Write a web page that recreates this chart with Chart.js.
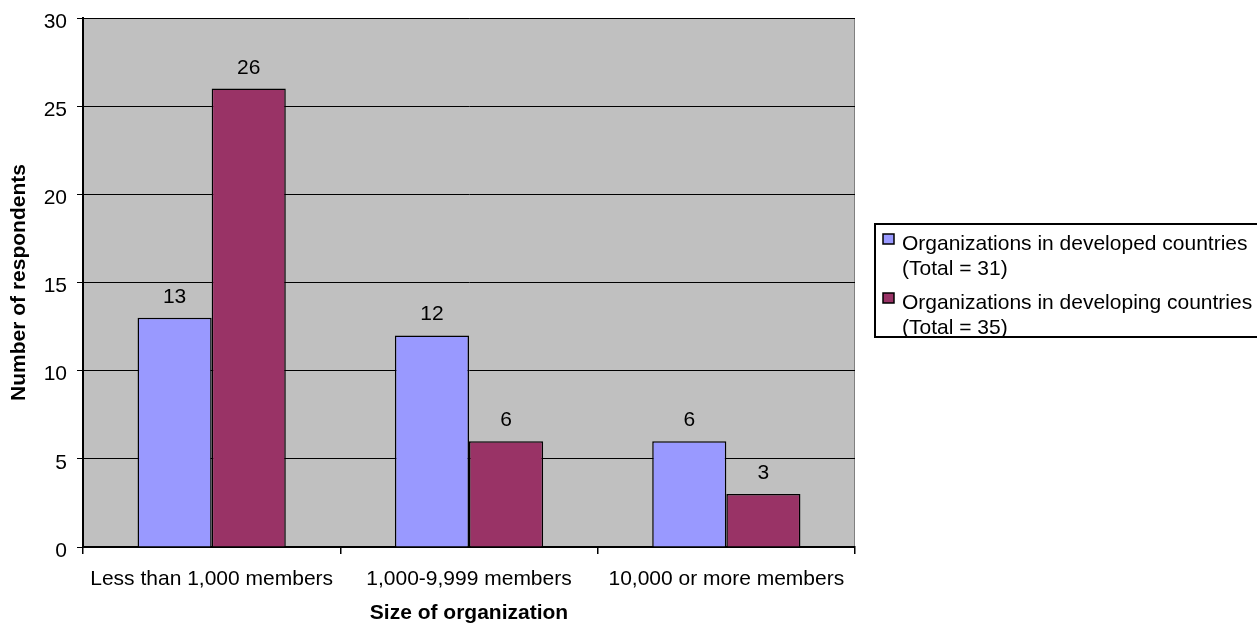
<!DOCTYPE html>
<html>
<head>
<meta charset="utf-8">
<script src="https://cdn.jsdelivr.net/npm/chart.js@4/dist/chart.umd.min.js"></script>
<style>
  html, body { margin: 0; padding: 0; background: #fff; }
  #wrap { width: 1257px; height: 626px; position: relative; }
</style>
</head>
<body>
<div id="wrap"><canvas id="chart"></canvas></div>
<script>
// Данные графика
const categories = ['Less than 1,000 members', '1,000-9,999 members', '10,000 or more members'];
const developedValues = [13, 12, 6];
const developingValues = [26, 6, 3];
const seriesLabels = [
    ['Organizations in developed countries', '(Total = 31)'],
    ['Organizations in developing countries', '(Total = 35)']
];
const yTicks = [0, 5, 10, 15, 20, 25, 30];

const FONT = 'Arial, "Liberation Sans", sans-serif';

// Серый фон области графика и рамка
const plotBackground = {
    id: 'plotBackground',
    beforeDraw(chart) {
        const { ctx, chartArea: a } = chart;
        ctx.save();
        ctx.fillStyle = '#c0c0c0';
        ctx.fillRect(a.left, a.top, a.right - a.left, a.bottom - a.top);
        ctx.strokeStyle = '#808080';
        ctx.lineWidth = 1;
        ctx.beginPath();
        ctx.moveTo(a.left, a.top + 0.5);
        ctx.lineTo(a.right - 0.5, a.top + 0.5);
        ctx.lineTo(a.right - 0.5, a.bottom);
        ctx.stroke();
        ctx.restore();
    }
};

// Подписи значений над столбцами
const valueLabels = {
    id: 'valueLabels',
    afterDatasetsDraw(chart) {
        const { ctx } = chart;
        ctx.save();
        ctx.font = '21px ' + FONT;
        ctx.fillStyle = '#000';
        ctx.textAlign = 'center';
        ctx.textBaseline = 'alphabetic';
        chart.data.datasets.forEach((ds, i) => {
            chart.getDatasetMeta(i).data.forEach((bar, j) => {
                ctx.fillText(ds.data[j], bar.x, bar.y - 15);
            });
        });
        ctx.restore();
    }
};

// Легенда в рамке справа (двухстрочные подписи)
const boxLegend = {
    id: 'boxLegend',
    afterDraw(chart) {
        const { ctx } = chart;
        const x = 875, y = 224, w = 400, h = 113;
        ctx.save();
        ctx.fillStyle = '#fff';
        ctx.fillRect(x, y, w, h);
        ctx.strokeStyle = '#000';
        ctx.lineWidth = 2;
        ctx.strokeRect(x, y, w, h);
        ctx.font = '21px ' + FONT;
        ctx.textBaseline = 'middle';
        const rowTops = [10, 69];
        chart.data.datasets.forEach((ds, i) => {
            const top = y + rowTops[i];
            ctx.fillStyle = ds.backgroundColor;
            ctx.fillRect(x + 8, top, 11, 10);
            ctx.strokeStyle = '#000';
            ctx.lineWidth = 1.5;
            ctx.strokeRect(x + 8, top, 11, 10);
            ctx.fillStyle = '#000';
            seriesLabels[i].forEach((line, k) => {
                ctx.fillText(line, x + 27, top + 10 + k * 25);
            });
        });
        ctx.restore();
    }
};

const ctx = document.getElementById('chart').getContext('2d');
new Chart(ctx, {
    type: 'bar',
    data: {
        labels: categories,
        datasets: [
            {
                label: seriesLabels[0].join(' '),
                data: developedValues,
                backgroundColor: '#9999ff',
                borderColor: '#000',
                borderWidth: 1.5
            },
            {
                label: seriesLabels[1].join(' '),
                data: developingValues,
                backgroundColor: '#993366',
                borderColor: '#000',
                borderWidth: 1.5
            }
        ]
    },
    options: {
        responsive: true,
        maintainAspectRatio: false,
        animation: false,
        datasets: {
            bar: { categoryPercentage: 0.576, barPercentage: 1 }
        },
        layout: { padding: { top: 18, right: 402, bottom: 0, left: 0 } },
        plugins: {
            legend: { display: false },
            tooltip: { enabled: false }
        },
        scales: {
            x: {
                afterFit(axis) { axis.height = 79; },
                grid: {
                    offset: true,
                    drawOnChartArea: false,
                    color: '#000',
                    lineWidth: 1.5,
                    tickLength: 7
                },
                border: { color: '#000', width: 2 },
                ticks: {
                    color: '#000',
                    font: { family: FONT, size: 21 },
                    padding: 13,
                    maxRotation: 0
                },
                title: {
                    display: true,
                    text: 'Size of organization',
                    color: '#000',
                    font: { family: FONT, size: 21, weight: 'bold' },
                    padding: { top: 0, bottom: 0 }
                }
            },
            y: {
                min: 0,
                max: 30,
                afterBuildTicks(axis) {
                    axis.ticks = yTicks.map(v => ({ value: v }));
                },
                afterFit(axis) {
                    axis.width = 83;
                    axis.paddingTop = 0;
                    axis.paddingBottom = 0;
                },
                grid: {
                    color: '#000',
                    lineWidth: 1,
                    tickLength: 6
                },
                border: { color: '#000', width: 2 },
                ticks: {
                    color: '#000',
                    font: { family: FONT, size: 21 },
                    padding: 10,
                    labelOffset: 4
                },
                title: {
                    display: true,
                    text: 'Number of respondents',
                    color: '#000',
                    font: { family: FONT, size: 21, weight: 'bold' },
                    padding: { top: 7, bottom: 0 }
                }
            }
        }
    },
    plugins: [plotBackground, valueLabels, boxLegend]
});
</script>
</body>
</html>
